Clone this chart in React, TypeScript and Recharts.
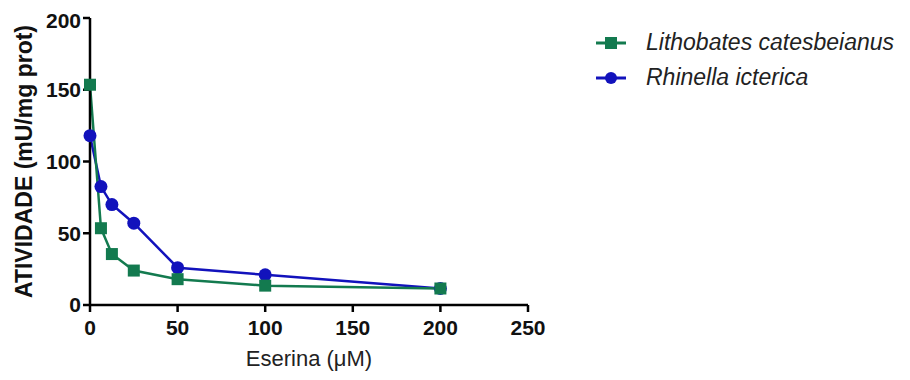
import { LineChart, Line, XAxis, YAxis } from "recharts";

const concentrations = [0, 6.25, 12.5, 25, 50, 100, 200];
const lithobates = [153.5, 53.5, 35.5, 24, 18, 13.5, 11.5];
const rhinella = [118, 82.5, 70, 57, 26, 21, 11.5];
const xTicks = [0, 50, 100, 150, 200, 250];
const yTicks = [0, 50, 100, 150, 200];

const GREEN = "#137a4f";
const BLUE = "#1212bc";
const FONT = "'Liberation Sans', Arial, sans-serif";

const seriesList = [
	{ key: "lith", name: "Lithobates catesbeianus", color: GREEN, shape: "square" },
	{ key: "rhin", name: "Rhinella icterica", color: BLUE, shape: "circle" },
];

const data = concentrations.map((c, i) => ({
	conc: c,
	lith: lithobates[i],
	rhin: rhinella[i],
}));

const SquareDot = (props: any) => {
	const { cx, cy } = props;
	if (cx == null || cy == null) return null;
	return <rect x={cx - 6} y={cy - 6} width={12} height={12} fill={GREEN} />;
};

const CircleDot = (props: any) => {
	const { cx, cy } = props;
	if (cx == null || cy == null) return null;
	return <circle cx={cx} cy={cy} r={6.5} fill={BLUE} />;
};

// legend drawn as an overlay so it doesn't shrink the plot area
const LegendBox = () => (
	<div
		style={{
			position: "absolute",
			left: 580,
			top: 17,
			fontFamily: FONT,
			fontStyle: "italic",
			fontSize: 23,
			color: "#222",
		}}
	>
		{seriesList.map((s) => (
			<div key={s.key} style={{ display: "flex", alignItems: "center", height: 35 }}>
				<svg width={50} height={20}>
					<line x1={8} x2={38} y1={10} y2={10} stroke={s.color} strokeWidth={3} />
					{s.shape === "square" ? (
						<rect x={17} y={4} width={12} height={12} fill={s.color} />
					) : (
						<circle cx={23} cy={10} r={6} fill={s.color} />
					)}
				</svg>
				<span style={{ marginLeft: 8 }}>{s.name}</span>
			</div>
		))}
	</div>
);

const YLabel = (props: any) => {
	const { viewBox } = props;
	const cx = viewBox.x - 6;
	const cy = viewBox.y + viewBox.height / 2;
	return (
		<text
			x={cx}
			y={cy}
			transform={`rotate(-90, ${cx}, ${cy})`}
			textAnchor='middle'
			dominantBaseline='central'
			fontFamily={FONT}
			fontWeight='bold'
			fontSize={23}
			fill='#111'
		>
			ATIVIDADE (mU/mg prot)
		</text>
	);
};

const App = () => {
	return (
		<div style={{ position: "relative", width: 894, height: 364 }}>
			<LineChart
				width={894}
				height={364}
				data={data}
				margin={{ top: 10, right: 374, left: 22, bottom: 27 }}
			>
				<XAxis
					dataKey='conc'
					type='number'
					domain={[0, 250]}
					ticks={xTicks}
					height={40}
					stroke='#000'
					strokeWidth={2.5}
					tickSize={7}
					tickMargin={8}
					tick={{ fontFamily: FONT, fontWeight: "bold", fontSize: 21, fill: "#111" }}
					label={{
						value: "Eserina (μM)",
						position: "insideBottom",
						offset: -21,
						fontFamily: FONT,
						fontSize: 22,
						fill: "#222",
					}}
				/>
				<YAxis
					type='number'
					domain={[0, 200]}
					ticks={yTicks}
					width={60}
					stroke='#000'
					strokeWidth={2.5}
					tickSize={7}
					tickMargin={2}
					tick={{ fontFamily: FONT, fontWeight: "bold", fontSize: 21, fill: "#111" }}
					label={<YLabel />}
				/>
				<Line
					dataKey='rhin'
					name='Rhinella icterica'
					stroke={BLUE}
					strokeWidth={2.5}
					dot={<CircleDot />}
					activeDot={false}
					isAnimationActive={false}
				/>
				<Line
					dataKey='lith'
					name='Lithobates catesbeianus'
					stroke={GREEN}
					strokeWidth={2.5}
					dot={<SquareDot />}
					activeDot={false}
					isAnimationActive={false}
				/>
			</LineChart>
			<LegendBox />
		</div>
	);
};

export default App;
